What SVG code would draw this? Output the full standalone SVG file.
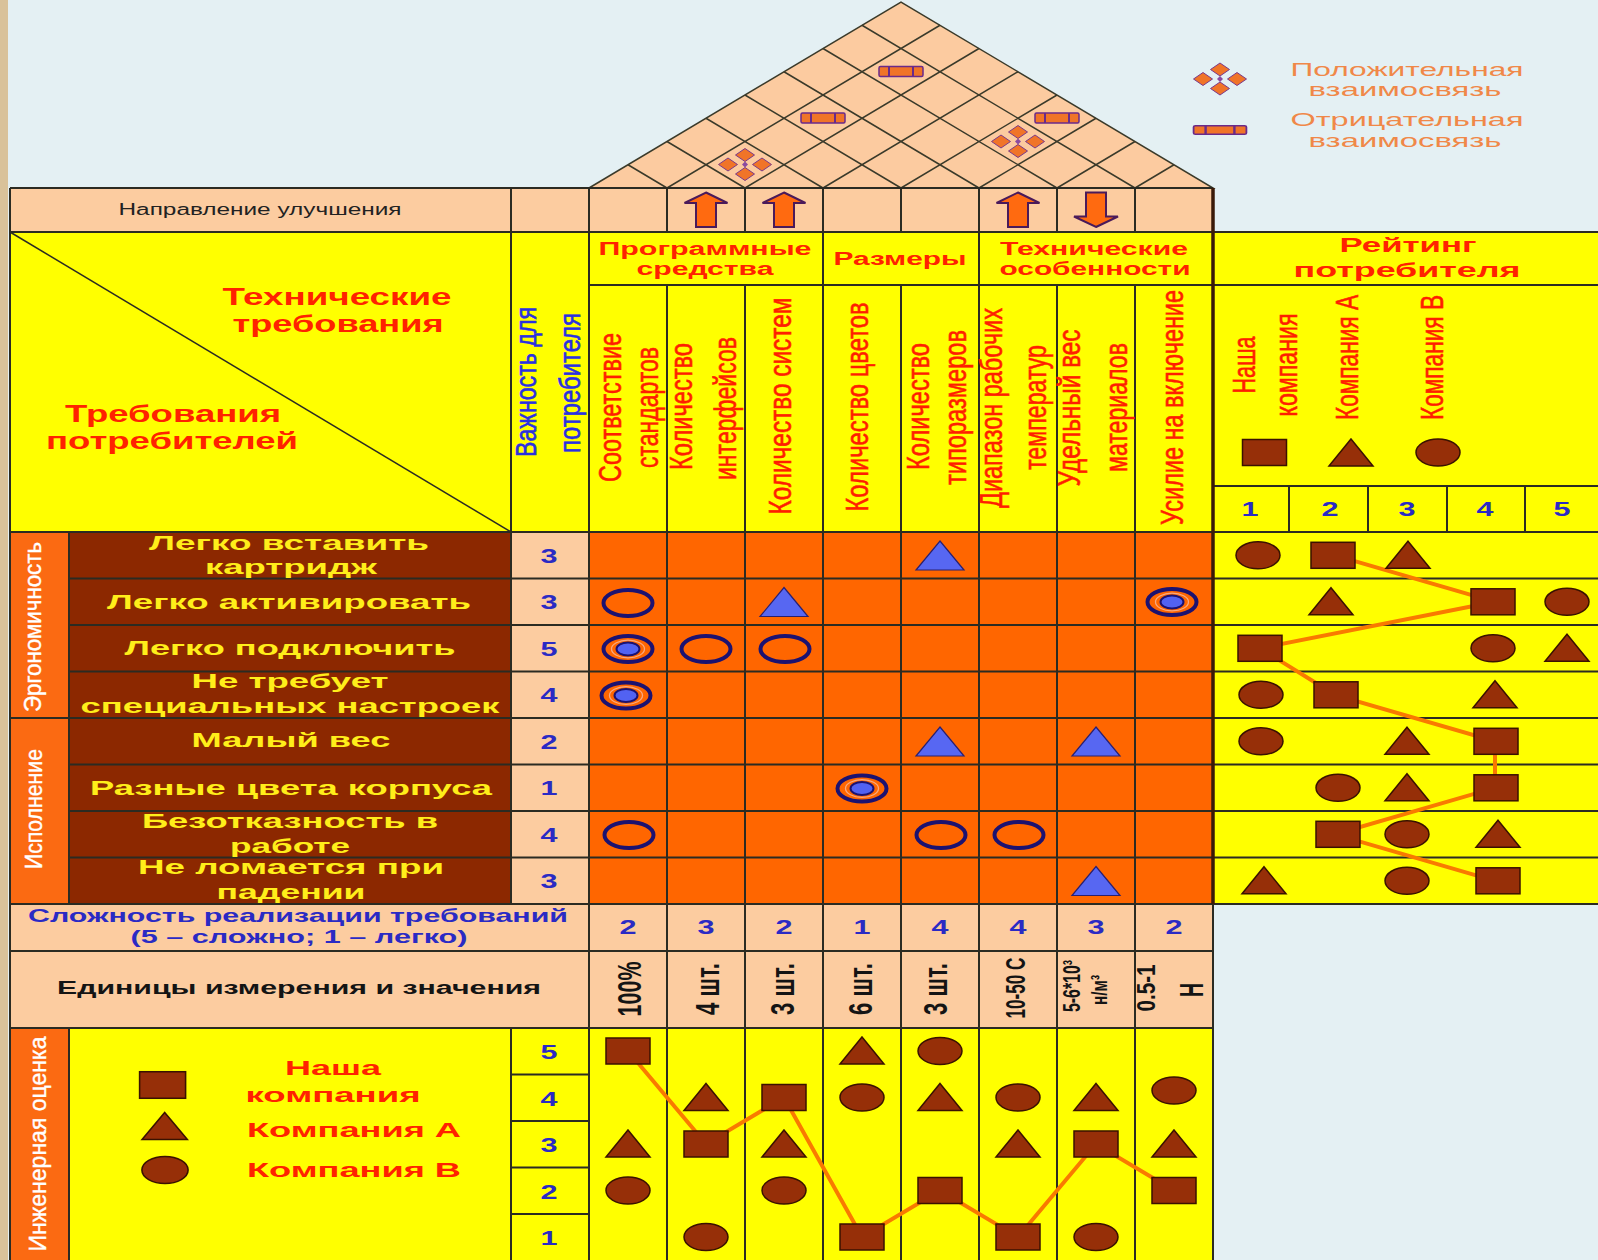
<svg xmlns="http://www.w3.org/2000/svg" width="1598" height="1260" viewBox="0 0 1598 1260">
<style>
text{font-family:"Liberation Sans",Arial,sans-serif;}
.b{font-weight:bold}
.c{text-anchor:middle}
.grid{stroke:#2b2b22;stroke-width:2;fill:none}
.peach{fill:#fccca0}
.yel{fill:#ffff00}
.org{fill:#ff6600}
.cat{fill:#fb6a12}
.brn{fill:#8c2800}
.sh{fill:#962f08;stroke:#3a1200;stroke-width:1.5}
.red{fill:#ff2200}
.num{fill:#2a2ac4;font-weight:bold;font-size:21px;text-anchor:middle}
.req{fill:#ffee1a;font-weight:bold;font-size:21px;text-anchor:middle}
.vt{fill:#ff1e00;stroke:#ff1e00;stroke-width:0.6px;font-size:32px;text-anchor:middle}
.vw{fill:#ffffff;stroke:#ffffff;stroke-width:0.4px;font-size:24px;text-anchor:middle}
.vb{fill:#2a30e0;stroke:#2a30e0;stroke-width:0.6px;font-size:30px;text-anchor:middle}
.un{fill:#141414;font-weight:bold;text-anchor:middle}
.lg{fill:#f08848;font-size:17.5px;text-anchor:middle}
.conn{stroke:#f97a00;stroke-width:4;fill:none;stroke-linecap:round}
</style>
<defs>
<rect id="sq" x="-22" y="-13" width="44" height="26" class="sh"/>
<polygon id="tr" points="0,-14 22,13 -22,13" class="sh"/>
<ellipse id="el" rx="22" ry="13.5" class="sh"/>
<g id="ro"><ellipse rx="24.5" ry="13" fill="none" stroke="#1c1270" stroke-width="4"/></g>
<g id="rd"><ellipse rx="24.5" ry="13" fill="none" stroke="#1c1270" stroke-width="4"/><ellipse rx="16.5" ry="8.8" fill="none" stroke="#f7a880" stroke-width="1.3"/><ellipse rx="11.5" ry="6.5" fill="#5262f2" stroke="#1c1270" stroke-width="2"/></g>
<g id="rt"><polygon points="0,-15 24,14 -24,14" fill="#5767f2" stroke="#2a2070" stroke-width="1.2"/></g>
<g id="pos"><path d="M0,-16L9.5,-9.5L0,-3L-9.5,-9.5Z M0,3L9.5,9.5L0,16L-9.5,9.5Z M-26.5,0L-17,-6.5L-7.5,0L-17,6.5Z M7.5,0L17,-6.5L26.5,0L17,6.5Z" fill="#f07428" stroke="#7a3a8a" stroke-width="1"/><path d="M0,-3L3,0L0,3L-3,0Z" fill="#8a4aa0"/></g>
<g id="neg"><rect x="-22" y="-5" width="44" height="10" rx="1.5" fill="#f07428" stroke="#6a2a8a" stroke-width="1.5"/><path d="M-12,-5V5M12,-5V5" stroke="#6a2a8a" stroke-width="2"/></g>
<path id="up" d="M0,-16.5L21.5,-6H10V18H-10V-6H-21.5Z" fill="#ff6a10" stroke="#4a1a5a" stroke-width="2"/>
<path id="dn" d="M0,17L22,6.5H10V-17.5H-10V6.5H-22Z" fill="#ff6a10" stroke="#4a1a5a" stroke-width="2"/>
</defs>

<rect width="1598" height="1260" fill="#e4f0f3"/>
<rect width="8" height="1260" fill="#d9c29a"/>

<g id="roof">
<polygon points="589,188 901,2 1213,188" fill="#fccba0" stroke="#3a3a2a" stroke-width="1.5"/>
<path d="M667 188L628 164.75M745 188L667 141.5M823 188L706 118.25M901 188L745 95M979 188L784 71.75M1057 188L823 48.5M1135 188L862 25.25M667 188L940 25.25M745 188L979 48.5M823 188L1018 71.75M901 188L1057 95M979 188L1096 118.25M1057 188L1135 141.5M1135 188L1174 164.75" stroke="#3a3a2a" stroke-width="1.5" fill="none"/>
<use href="#pos" x="745" y="164.5"/>
<use href="#neg" x="823" y="118"/>
<use href="#neg" x="901" y="71.5"/>
<use href="#pos" x="1018" y="141.5"/>
<use href="#neg" x="1057" y="118"/>
</g>

<g id="legend">
<use href="#pos" x="1220" y="79"/>
<use href="#neg" transform="translate(1220 130) scale(1.2 0.85)"/>
<text class="lg" x="1407" y="75.5" textLength="233" lengthAdjust="spacingAndGlyphs">Положительная</text>
<text class="lg" x="1405" y="96" textLength="193" lengthAdjust="spacingAndGlyphs">взаимосвязь</text>
<text class="lg" x="1407" y="126" textLength="233" lengthAdjust="spacingAndGlyphs">Отрицательная</text>
<text class="lg" x="1405" y="147" textLength="193" lengthAdjust="spacingAndGlyphs">взаимосвязь</text>
</g>

<g id="backgrounds">
<rect class="peach" x="10" y="188" width="1203" height="44"/>
<rect class="yel" x="10" y="232" width="1588" height="300"/>
<rect class="cat" x="10" y="532" width="59" height="372"/>
<rect class="brn" x="69" y="532" width="442" height="372"/>
<rect class="peach" x="511" y="532" width="78" height="372"/>
<rect class="org" x="589" y="532" width="624" height="372"/>
<rect class="yel" x="1213" y="532" width="385" height="372"/>
<rect class="peach" x="10" y="904" width="1203" height="124"/>
<rect class="cat" x="10" y="1028" width="59" height="232"/>
<rect class="yel" x="69" y="1028" width="1144" height="232"/>
</g>

<g id="gridlines">
<path class="grid" d="M10 188H1213M10 232H1598M589 285H1598M1213 486H1598M10 532H1598M69 578.5H1598M69 625H1598M69 671.5H1598M10 718H1598M69 764.5H1598M69 811H1598M69 857.5H1598M10 904H1598M10 951H1213M10 1028H1213M511 1074.5H589M511 1121H589M511 1167.5H589M511 1214H589"/>
<path class="grid" d="M10 188V1260M69 532V904M69 1028V1260M511 188V904M511 1028V1260M589 188V1260M823 188V1260M979 188V1260M667 188V232M745 188V232M901 188V232M1057 188V232M1135 188V232M667 285V1260M745 285V1260M901 285V1260M1057 285V1260M1135 285V1260M1289 486V532M1368 486V532M1447 486V532M1525 486V532"/>
<path d="M1213 188V904" stroke="#3a1a08" stroke-width="3.5"/>
<path d="M1213 904V1260" stroke="#2b2b22" stroke-width="2"/>
<path d="M10 232L511 532" stroke="#2b2b22" stroke-width="1.5"/>
</g>

<g id="direction">
<text x="260" y="215" class="c" font-size="16" fill="#222" textLength="283" lengthAdjust="spacingAndGlyphs">Направление улучшения</text>
<use href="#up" x="706" y="209"/>
<use href="#up" x="784" y="209"/>
<use href="#up" x="1018" y="209"/>
<use href="#dn" x="1096" y="210"/>
</g>

<g id="header-corner">
<text class="b c red" font-size="23" x="337" y="304.5" textLength="229" lengthAdjust="spacingAndGlyphs">Технические</text>
<text class="b c red" font-size="23" x="338" y="331.5" textLength="211" lengthAdjust="spacingAndGlyphs">требования</text>
<text class="b c red" font-size="23" x="173" y="422" textLength="216" lengthAdjust="spacingAndGlyphs">Требования</text>
<text class="b c red" font-size="23" x="172" y="448.5" textLength="252" lengthAdjust="spacingAndGlyphs">потребителей</text>
</g>

<g id="importance-header">
<text transform="translate(536 382) rotate(-90)" class="vb" textLength="150" lengthAdjust="spacingAndGlyphs">Важность для</text>
<text transform="translate(580 383) rotate(-90)" class="vb" textLength="140" lengthAdjust="spacingAndGlyphs">потребителя</text>
</g>

<g id="tech-groups">
<text class="b c red" font-size="18" x="705" y="255" textLength="213" lengthAdjust="spacingAndGlyphs">Программные</text>
<text class="b c red" font-size="18" x="705" y="275" textLength="137" lengthAdjust="spacingAndGlyphs">средства</text>
<text class="b c red" font-size="18" x="900" y="265" textLength="133" lengthAdjust="spacingAndGlyphs">Размеры</text>
<text class="b c red" font-size="18" x="1094" y="255" textLength="188" lengthAdjust="spacingAndGlyphs">Технические</text>
<text class="b c red" font-size="18" x="1095" y="275" textLength="191" lengthAdjust="spacingAndGlyphs">особенности</text>
</g>

<g id="tech-columns">
<text class="vt" transform="translate(621 407.5) rotate(-90)" textLength="149" lengthAdjust="spacingAndGlyphs">Соответствие</text>
<text class="vt" transform="translate(658 407.5) rotate(-90)" textLength="121" lengthAdjust="spacingAndGlyphs">стандартов</text>
<text class="vt" transform="translate(692 406.5) rotate(-90)" textLength="127" lengthAdjust="spacingAndGlyphs">Количество</text>
<text class="vt" transform="translate(736 408.5) rotate(-90)" textLength="143" lengthAdjust="spacingAndGlyphs">интерфейсов</text>
<text class="vt" transform="translate(791 406) rotate(-90)" textLength="217" lengthAdjust="spacingAndGlyphs">Количество  систем</text>
<text class="vt" transform="translate(868 407) rotate(-90)" textLength="209" lengthAdjust="spacingAndGlyphs">Количество цветов</text>
<text class="vt" transform="translate(929 406.5) rotate(-90)" textLength="127" lengthAdjust="spacingAndGlyphs">Количество</text>
<text class="vt" transform="translate(966 407.5) rotate(-90)" textLength="155" lengthAdjust="spacingAndGlyphs">типоразмеров</text>
<text class="vt" transform="translate(1002 408) rotate(-90)" textLength="200" lengthAdjust="spacingAndGlyphs">Диапазон рабочих</text>
<text class="vt" transform="translate(1046 407.5) rotate(-90)" textLength="125" lengthAdjust="spacingAndGlyphs">температур</text>
<text class="vt" transform="translate(1080 408) rotate(-90)" textLength="157" lengthAdjust="spacingAndGlyphs">Удельный вес</text>
<text class="vt" transform="translate(1127 407.5) rotate(-90)" textLength="129" lengthAdjust="spacingAndGlyphs">материалов</text>
<text class="vt" transform="translate(1183 407.5) rotate(-90)" textLength="235" lengthAdjust="spacingAndGlyphs">Усилие на включение</text>
</g>

<g id="rating-header">
<text class="b c red" font-size="21" x="1408" y="252" textLength="137" lengthAdjust="spacingAndGlyphs">Рейтинг</text>
<text class="b c red" font-size="21" x="1407" y="277" textLength="227" lengthAdjust="spacingAndGlyphs">потребителя</text>
<text class="vt" transform="translate(1255 365) rotate(-90)" textLength="57" lengthAdjust="spacingAndGlyphs">Наша</text>
<text class="vt" transform="translate(1297 365) rotate(-90)" textLength="103" lengthAdjust="spacingAndGlyphs">компания</text>
<text class="vt" transform="translate(1358 357.5) rotate(-90)" textLength="125" lengthAdjust="spacingAndGlyphs">Компания А</text>
<text class="vt" transform="translate(1443 357.5) rotate(-90)" textLength="125" lengthAdjust="spacingAndGlyphs">Компания В</text>
<use href="#sq" x="1264.5" y="452.5"/>
<use href="#tr" x="1351" y="453"/>
<use href="#el" x="1438" y="452.5"/>
<text class="num" x="1250" y="516" textLength="17" lengthAdjust="spacingAndGlyphs">1</text>
<text class="num" x="1330" y="516" textLength="17" lengthAdjust="spacingAndGlyphs">2</text>
<text class="num" x="1407" y="516" textLength="17" lengthAdjust="spacingAndGlyphs">3</text>
<text class="num" x="1485" y="516" textLength="17" lengthAdjust="spacingAndGlyphs">4</text>
<text class="num" x="1562" y="516" textLength="17" lengthAdjust="spacingAndGlyphs">5</text>
</g>

<g id="categories">
<text class="vw" transform="translate(41 627) rotate(-90)" textLength="170" lengthAdjust="spacingAndGlyphs">Эргономичность</text>
<text class="vw" transform="translate(42 809) rotate(-90)" textLength="120" lengthAdjust="spacingAndGlyphs">Исполнение</text>
</g>

<g id="requirements">
<text class="req" x="289" y="549.5" textLength="280" lengthAdjust="spacingAndGlyphs">Легко вставить</text>
<text class="req" x="291" y="573.5" textLength="172" lengthAdjust="spacingAndGlyphs">картридж</text>
<text class="req" x="289" y="609" textLength="364" lengthAdjust="spacingAndGlyphs">Легко активировать</text>
<text class="req" x="290" y="654.5" textLength="331" lengthAdjust="spacingAndGlyphs">Легко подключить</text>
<text class="req" x="290" y="688" textLength="197" lengthAdjust="spacingAndGlyphs">Не требует</text>
<text class="req" x="290" y="712.5" textLength="419" lengthAdjust="spacingAndGlyphs">специальных настроек</text>
<text class="req" x="291" y="747" textLength="199" lengthAdjust="spacingAndGlyphs">Малый вес</text>
<text class="req" x="291" y="795" textLength="402" lengthAdjust="spacingAndGlyphs">Разные цвета корпуса</text>
<text class="req" x="290" y="828" textLength="296" lengthAdjust="spacingAndGlyphs">Безотказность в</text>
<text class="req" x="290" y="853" textLength="120" lengthAdjust="spacingAndGlyphs">работе</text>
<text class="req" x="291" y="874" textLength="306" lengthAdjust="spacingAndGlyphs">Не ломается при</text>
<text class="req" x="291" y="899" textLength="149" lengthAdjust="spacingAndGlyphs">падении</text>
</g>

<g id="importance">
<text class="num" x="549" y="562.8" textLength="17" lengthAdjust="spacingAndGlyphs">3</text>
<text class="num" x="549" y="609.3" textLength="17" lengthAdjust="spacingAndGlyphs">3</text>
<text class="num" x="549" y="655.8" textLength="17" lengthAdjust="spacingAndGlyphs">5</text>
<text class="num" x="549" y="702.3" textLength="17" lengthAdjust="spacingAndGlyphs">4</text>
<text class="num" x="549" y="748.8" textLength="17" lengthAdjust="spacingAndGlyphs">2</text>
<text class="num" x="549" y="795.3" textLength="17" lengthAdjust="spacingAndGlyphs">1</text>
<text class="num" x="549" y="841.8" textLength="17" lengthAdjust="spacingAndGlyphs">4</text>
<text class="num" x="549" y="888.3" textLength="17" lengthAdjust="spacingAndGlyphs">3</text>
</g>

<g id="matrix">
<use href="#rt" x="940" y="556"/>
<use href="#ro" x="628" y="603"/>
<use href="#rt" x="784" y="602.5"/>
<use href="#rd" x="1172" y="602"/>
<use href="#rd" x="628" y="649"/>
<use href="#ro" x="706" y="649"/>
<use href="#ro" x="785" y="649"/>
<use href="#rd" x="626" y="695.5"/>
<use href="#rt" x="940" y="742"/>
<use href="#rt" x="1096" y="742"/>
<use href="#rd" x="862" y="788.5"/>
<use href="#ro" x="629" y="835"/>
<use href="#ro" x="941" y="835"/>
<use href="#ro" x="1019" y="835"/>
<use href="#rt" x="1096" y="881.5"/>
</g>

<g id="connectors">
<polyline class="conn" points="1335,555.3 1495,601.8 1260,648.3 1335,694.8 1495,741.3 1495,787.8 1335,834.3 1495,880.8"/>
<polyline class="conn" points="628,1051 706,1144 784,1097.5 862,1237 940,1190.5 1018,1237 1096,1144 1174,1190.5"/>
</g>

<g id="rating">
<use href="#el" x="1258" y="555.3"/><use href="#sq" x="1333" y="555.3"/><use href="#tr" x="1408" y="555.3"/>
<use href="#tr" x="1331" y="601.8"/><use href="#sq" x="1493" y="601.8"/><use href="#el" x="1567" y="601.8"/>
<use href="#sq" x="1260" y="648.3"/><use href="#el" x="1493" y="648.3"/><use href="#tr" x="1567" y="648.3"/>
<use href="#el" x="1261" y="694.8"/><use href="#sq" x="1336" y="694.8"/><use href="#tr" x="1495" y="694.8"/>
<use href="#el" x="1261" y="741.3"/><use href="#tr" x="1407" y="741.3"/><use href="#sq" x="1496" y="741.3"/>
<use href="#el" x="1338" y="787.8"/><use href="#tr" x="1407" y="787.8"/><use href="#sq" x="1496" y="787.8"/>
<use href="#sq" x="1338" y="834.3"/><use href="#el" x="1407" y="834.3"/><use href="#tr" x="1498" y="834.3"/>
<use href="#tr" x="1264" y="880.8"/><use href="#el" x="1407" y="880.8"/><use href="#sq" x="1498" y="880.8"/>
</g>

<g id="difficulty">
<text class="b c" font-size="19" fill="#2a2ac4" x="298" y="921.5" textLength="540" lengthAdjust="spacingAndGlyphs">Сложность реализации требований</text>
<text class="b c" font-size="19" fill="#2a2ac4" x="299" y="943" textLength="337" lengthAdjust="spacingAndGlyphs">(5 – сложно; 1 – легко)</text>
<text class="num" x="628" y="934" textLength="17" lengthAdjust="spacingAndGlyphs">2</text>
<text class="num" x="706" y="934" textLength="17" lengthAdjust="spacingAndGlyphs">3</text>
<text class="num" x="784" y="934" textLength="17" lengthAdjust="spacingAndGlyphs">2</text>
<text class="num" x="862" y="934" textLength="17" lengthAdjust="spacingAndGlyphs">1</text>
<text class="num" x="940" y="934" textLength="17" lengthAdjust="spacingAndGlyphs">4</text>
<text class="num" x="1018" y="934" textLength="17" lengthAdjust="spacingAndGlyphs">4</text>
<text class="num" x="1096" y="934" textLength="17" lengthAdjust="spacingAndGlyphs">3</text>
<text class="num" x="1174" y="934" textLength="17" lengthAdjust="spacingAndGlyphs">2</text>
</g>

<g id="units">
<text class="un" font-size="18" x="299" y="994" textLength="484" lengthAdjust="spacingAndGlyphs">Единицы измерения и значения</text>
<text class="un" font-size="33" transform="translate(641 989) rotate(-90)" textLength="55" lengthAdjust="spacingAndGlyphs">100%</text>
<text class="un" font-size="33" transform="translate(719 989) rotate(-90)" textLength="52" lengthAdjust="spacingAndGlyphs">4 шт.</text>
<text class="un" font-size="33" transform="translate(794 989) rotate(-90)" textLength="52" lengthAdjust="spacingAndGlyphs">3 шт.</text>
<text class="un" font-size="33" transform="translate(872 989) rotate(-90)" textLength="52" lengthAdjust="spacingAndGlyphs">6 шт.</text>
<text class="un" font-size="33" transform="translate(947 989) rotate(-90)" textLength="52" lengthAdjust="spacingAndGlyphs">3 шт.</text>
<text class="un" font-size="28" transform="translate(1025 988) rotate(-90)" textLength="61" lengthAdjust="spacingAndGlyphs">10-50 С</text>
<text class="un" font-size="24" transform="translate(1080 986) rotate(-90)" textLength="52" lengthAdjust="spacingAndGlyphs">5-6*10³</text>
<text class="un" font-size="22" transform="translate(1107 990) rotate(-90)" textLength="30" lengthAdjust="spacingAndGlyphs">н/м³</text>
<text class="un" font-size="26" transform="translate(1155 988) rotate(-90)" textLength="47" lengthAdjust="spacingAndGlyphs">0.5-1</text>
<text class="un" font-size="33" transform="translate(1203 990) rotate(-90)" textLength="14" lengthAdjust="spacingAndGlyphs">Н</text>
</g>

<g id="engineering">
<text class="vw" font-size="26" transform="translate(45.5 1144) rotate(-90)" textLength="215" lengthAdjust="spacingAndGlyphs">Инженерная оценка</text>
<use href="#sq" transform="translate(162.6 1085) scale(1.045 1.02)"/>
<use href="#tr" transform="translate(164.7 1126.5) scale(1.03 1)"/>
<use href="#el" transform="translate(165 1170) scale(1.05 1)"/>
<text class="b c red" font-size="20" x="333" y="1075" textLength="96" lengthAdjust="spacingAndGlyphs">Наша</text>
<text class="b c red" font-size="20" x="333" y="1101.5" textLength="175" lengthAdjust="spacingAndGlyphs">компания</text>
<text class="b c red" font-size="20" x="354" y="1136.5" textLength="214" lengthAdjust="spacingAndGlyphs">Компания А</text>
<text class="b c red" font-size="20" x="354" y="1176.5" textLength="214" lengthAdjust="spacingAndGlyphs">Компания В</text>
<text class="num" x="549" y="1059" textLength="17" lengthAdjust="spacingAndGlyphs">5</text>
<text class="num" x="549" y="1105.5" textLength="17" lengthAdjust="spacingAndGlyphs">4</text>
<text class="num" x="549" y="1152" textLength="17" lengthAdjust="spacingAndGlyphs">3</text>
<text class="num" x="549" y="1198.5" textLength="17" lengthAdjust="spacingAndGlyphs">2</text>
<text class="num" x="549" y="1245" textLength="17" lengthAdjust="spacingAndGlyphs">1</text>
<use href="#sq" x="628" y="1051"/><use href="#tr" x="628" y="1144"/><use href="#el" x="628" y="1190.5"/>
<use href="#tr" x="706" y="1097.5"/><use href="#sq" x="706" y="1144"/><use href="#el" x="706" y="1237"/>
<use href="#sq" x="784" y="1097.5"/><use href="#tr" x="784" y="1144"/><use href="#el" x="784" y="1190.5"/>
<use href="#tr" x="862" y="1051"/><use href="#el" x="862" y="1097.5"/><use href="#sq" x="862" y="1237"/>
<use href="#el" x="940" y="1051"/><use href="#tr" x="940" y="1097.5"/><use href="#sq" x="940" y="1190.5"/>
<use href="#el" x="1018" y="1097.5"/><use href="#tr" x="1018" y="1144"/><use href="#sq" x="1018" y="1237"/>
<use href="#tr" x="1096" y="1097.5"/><use href="#sq" x="1096" y="1144"/><use href="#el" x="1096" y="1237"/>
<use href="#el" x="1174" y="1090.5"/><use href="#tr" x="1174" y="1144"/><use href="#sq" x="1174" y="1190.5"/>
</g>
</svg>
